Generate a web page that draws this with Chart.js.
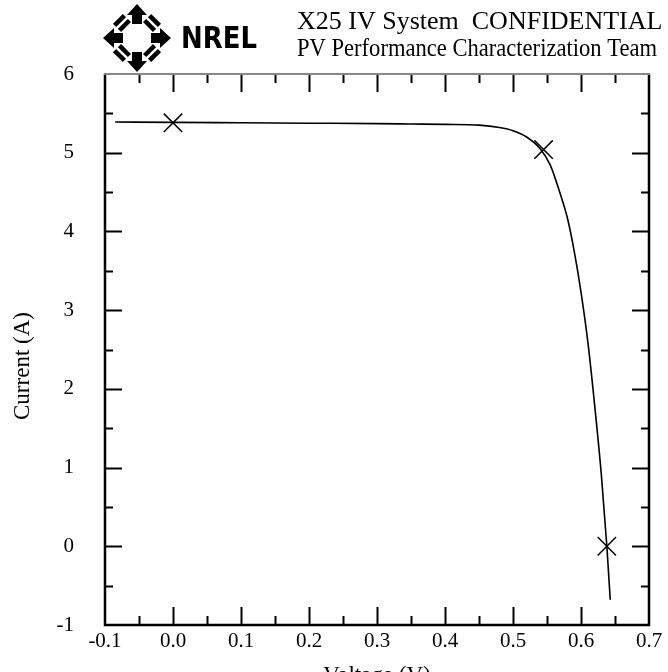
<!DOCTYPE html>
<html>
<head>
<meta charset="utf-8">
<script src="https://cdn.jsdelivr.net/npm/chart.js@4.4.1/dist/chart.umd.min.js"></script>
<style>
  html, body { margin: 0; padding: 0; background: #fff; }
  #ivChart { display: block; }
</style>
</head>
<body>
<canvas id="ivChart" width="668" height="672"></canvas>
<script>
// IV curve (volts, amps)
const voltage = [-0.085, 0.0, 0.1, 0.2, 0.3, 0.35, 0.4, 0.45, 0.48, 0.50, 0.52, 0.54, 0.555, 0.569, 0.58, 0.59, 0.60, 0.61, 0.62, 0.63, 0.638, 0.643];
const current = [5.39, 5.385, 5.38, 5.375, 5.37, 5.365, 5.36, 5.35, 5.32, 5.28, 5.20, 5.05, 4.84, 4.49, 4.17, 3.75, 3.23, 2.60, 1.80, 0.90, 0.0, -0.68];

// Isc, Pmax and Voc markers
const markerV = [0.0, 0.545, 0.638];
const markerI = [5.38, 5.04, 0.0];

// axis ticks
const xTickValues = [-0.1, 0.0, 0.1, 0.2, 0.3, 0.4, 0.5, 0.6, 0.7];
const xTickLabels = ['-0.1', '0.0', '0.1', '0.2', '0.3', '0.4', '0.5', '0.6', '0.7'];
const yTickValues = [-1, 0, 1, 2, 3, 4, 5, 6];
const yTickLabels = ['-1', '0', '1', '2', '3', '4', '5', '6'];

const titleLine1 = 'X25 IV System  CONFIDENTIAL';
const titleLine2 = 'PV Performance Characterization Team';
const xTitle = 'Voltage (V)';
const yTitle = 'Current (A)';

const SERIF = "'Liberation Serif', 'Times New Roman', serif";

function labelFor(values, labels, v) {
  for (let i = 0; i < values.length; i++) {
    if (Math.abs(values[i] - v) < 1e-6) return labels[i];
  }
  return '';
}
function isMajor(values, v) {
  return values.some(t => Math.abs(t - v) < 1e-6);
}

// frame, inward ticks, header and axis titles
const decor = {
  id: 'decor',
  afterDatasetsDraw(chart) {
    const { ctx, chartArea: a, scales } = chart;
    ctx.save();
    ctx.strokeStyle = '#000';
    ctx.lineWidth = 2;
    ctx.beginPath();
    scales.x.ticks.forEach(t => {
      const px = Math.round(scales.x.getPixelForValue(t.value)) + 0.5;
      if (px <= a.left + 2 || px >= a.right - 2) return;
      const len = isMajor(xTickValues, t.value) ? 18 : 9;
      ctx.moveTo(px, a.bottom); ctx.lineTo(px, a.bottom - len);
      ctx.moveTo(px, a.top); ctx.lineTo(px, a.top + len);
    });
    scales.y.ticks.forEach(t => {
      const py = Math.round(scales.y.getPixelForValue(t.value)) + 0.5;
      if (py <= a.top + 2 || py >= a.bottom - 2) return;
      const len = isMajor(yTickValues, t.value) ? 17 : 8;
      ctx.moveTo(a.left, py); ctx.lineTo(a.left + len, py);
      ctx.moveTo(a.right, py); ctx.lineTo(a.right - len, py);
    });
    ctx.stroke();

    ctx.lineWidth = 2.5;
    ctx.beginPath();
    ctx.moveTo(a.left, a.top); ctx.lineTo(a.left, a.bottom);
    ctx.lineTo(a.right, a.bottom); ctx.lineTo(a.right, a.top);
    ctx.stroke();
    ctx.strokeStyle = '#888';
    ctx.lineWidth = 2;
    ctx.beginPath();
    ctx.moveTo(a.left - 1, a.top); ctx.lineTo(a.right + 1, a.top);
    ctx.stroke();
    ctx.restore();
  },
  afterDraw(chart) {
    const { ctx, chartArea: a } = chart;
    ctx.save();
    ctx.fillStyle = '#000';
    ctx.textBaseline = 'alphabetic';
    ctx.textAlign = 'left';
    ctx.font = '26px ' + SERIF;
    ctx.fillText(titleLine1, 297, 29, 366);
    ctx.font = '26px ' + SERIF;
    ctx.fillText(titleLine2, 297, 56, 360);

    ctx.font = '23px ' + SERIF;
    ctx.textAlign = 'center';
    ctx.textBaseline = 'top';
    ctx.fillText(xTitle, (a.left + a.right) / 2, 664);
    ctx.translate(23, 366);
    ctx.rotate(-Math.PI / 2);
    ctx.textBaseline = 'middle';
    ctx.fillText(yTitle, 0, 0);
    ctx.restore();

    drawLogo(ctx);
  }
};

function drawLogo(ctx) {
  const cx = 137, cy = 38;
  ctx.save();
  ctx.fillStyle = '#000';
  ctx.translate(cx, cy);
  // four main arrows
  for (let k = 0; k < 4; k++) {
    ctx.save();
    ctx.rotate(k * Math.PI / 2);
    ctx.beginPath();
    ctx.moveTo(0, -34);
    ctx.lineTo(10, -23);
    ctx.lineTo(5, -23);
    ctx.lineTo(5, -14);
    ctx.lineTo(-5, -14);
    ctx.lineTo(-5, -23);
    ctx.lineTo(-10, -23);
    ctx.closePath();
    ctx.fill();
    ctx.restore();
  }
  // diagonal bars
  for (let k = 0; k < 4; k++) {
    ctx.save();
    ctx.rotate(Math.PI / 4 + k * Math.PI / 2);
    ctx.fillRect(-7, -27, 14, 4.5);
    ctx.fillRect(-7, -20, 14, 4.5);
    ctx.restore();
  }
  ctx.restore();

  ctx.save();
  ctx.fillStyle = '#000';
  ctx.font = "bold 30px 'DejaVu Sans', 'Liberation Sans', sans-serif";
  ctx.textBaseline = 'alphabetic';
  ctx.fillText('NREL', 181, 48, 76);
  ctx.restore();
}

const ctx = document.getElementById('ivChart').getContext('2d');

const ivChart = new Chart(ctx, {
  type: 'scatter',
  data: {
    datasets: [{
      label: 'IV curve',
      data: voltage.map((v, i) => ({ x: v, y: current[i] })),
      showLine: true,
      borderColor: '#000',
      borderWidth: 1.6,
      pointRadius: 0,
      cubicInterpolationMode: 'monotone'
    }, {
      label: 'Isc / Pmax / Voc',
      data: markerV.map((v, i) => ({ x: v, y: markerI[i] })),
      showLine: false,
      pointStyle: 'crossRot',
      pointRadius: 13,
      borderColor: '#000',
      borderWidth: 1.5
    }]
  },
  options: {
    responsive: false,
    animation: false,
    devicePixelRatio: 1,
    layout: { padding: { left: 0, top: 74, right: 19, bottom: 0 } },
    plugins: { legend: { display: false }, tooltip: { enabled: false } },
    scales: {
      x: {
        type: 'linear',
        min: -0.1,
        max: 0.7,
        afterFit: s => { s.height = 47; },
        grid: { display: false, drawTicks: false },
        border: { display: false },
        ticks: {
          stepSize: 0.05,
          autoSkip: false,
          maxRotation: 0,
          padding: 4,
          color: '#000',
          font: { family: SERIF, size: 21 },
          callback: v => labelFor(xTickValues, xTickLabels, v)
        }
      },
      y: {
        type: 'linear',
        min: -1,
        max: 6,
        afterFit: s => { s.width = 105; },
        grid: { display: false, drawTicks: false },
        border: { display: false },
        ticks: {
          stepSize: 0.5,
          autoSkip: false,
          padding: 31,
          color: '#000',
          font: { family: SERIF, size: 21 },
          callback: v => labelFor(yTickValues, yTickLabels, v)
        }
      }
    }
  },
  plugins: [decor]
});
</script>
</body>
</html>
